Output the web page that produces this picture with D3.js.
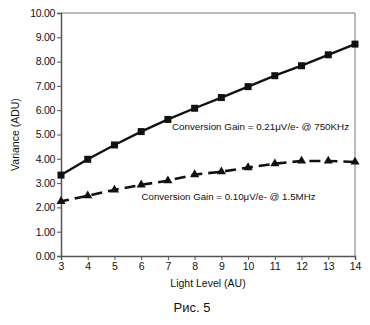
<!DOCTYPE html>
<html>
<head>
<meta charset="utf-8">
<script src="https://cdn.jsdelivr.net/npm/d3@7"></script>
<style>
  html, body { margin: 0; padding: 0; background: #fff; }
  svg { display: block; font-family: "Liberation Sans", Arial, sans-serif; }
</style>
</head>
<body>
<svg id="chart" width="370" height="325"></svg>
<script>
// Light level (AU) on the x axis
const lightLevels = [3, 4, 5, 6, 7, 8, 9, 10, 11, 12, 13, 14];
// Measured variance (ADU) for the two readout settings
const variance750KHz = [3.33, 3.98, 4.57, 5.12, 5.62, 6.08, 6.52, 6.97, 7.42, 7.83, 8.28, 8.72];
const variance15MHz = [2.25, 2.48, 2.72, 2.93, 3.10, 3.35, 3.47, 3.64, 3.80, 3.91, 3.91, 3.87];
const yTicks = [0, 1, 2, 3, 4, 5, 6, 7, 8, 9, 10];
const seriesLabels = [
  "Conversion Gain = 0.21\u03bcV/e- @ 750KHz",
  "Conversion Gain = 0.10\u03bcV/e- @ 1.5MHz"
];

const svg = d3.select("#chart");
const m = { left: 61, right: 15, top: 13, bottom: 69 };
const W = 370, H = 325;

const x = d3.scaleLinear().domain([3, 14]).range([m.left, W - m.right]);
const y = d3.scaleLinear().domain([0, 10]).range([H - m.bottom, m.top]);

// Frame (top and right edges)
svg.append("path")
  .attr("d", `M${x(3)},${y(10)}H${x(14)}V${y(0)}`)
  .attr("fill", "none").attr("stroke", "#777").attr("stroke-width", 1);

// Y axis
const yAxis = svg.append("g")
  .attr("transform", `translate(${x(3)},0)`)
  .call(d3.axisLeft(y).tickValues(yTicks).tickFormat(d3.format(".2f")).tickSize(4).tickPadding(2));
yAxis.select(".domain").attr("stroke", "#555").attr("stroke-width", 1.5);
yAxis.selectAll(".tick line").attr("stroke", "#555");
yAxis.selectAll("text").attr("font-size", 10.5).attr("fill", "#111").attr("letter-spacing", -0.3);

// X axis
const xAxis = svg.append("g")
  .attr("transform", `translate(0,${y(0)})`)
  .call(d3.axisBottom(x).tickValues(lightLevels).tickFormat(d3.format("d")).tickSize(4).tickPadding(3));
xAxis.select(".domain").attr("stroke", "#555").attr("stroke-width", 1.5);
xAxis.selectAll(".tick line").attr("stroke", "#555");
xAxis.selectAll("text").attr("font-size", 10.5).attr("fill", "#111");

// Axis titles
svg.append("text")
  .attr("transform", `translate(19,${(y(0) + y(10)) / 2}) rotate(-90)`)
  .attr("text-anchor", "middle").attr("font-size", 10.5).attr("fill", "#111")
  .text("Variance (ADU)");
svg.append("text")
  .attr("x", 208).attr("y", 287)
  .attr("text-anchor", "middle").attr("font-size", 10.5).attr("fill", "#111")
  .text("Light Level (AU)");
svg.append("text")
  .attr("x", 192).attr("y", 312)
  .attr("text-anchor", "middle").attr("font-size", 13).attr("fill", "#111")
  .text("Рис. 5");

const line = d3.line().x(d => x(d[0])).y(d => y(d[1]));
const pts1 = lightLevels.map((l, i) => [l, variance750KHz[i]]);
const pts2 = lightLevels.map((l, i) => [l, variance15MHz[i]]);

// Series 1: solid line, square markers
svg.append("path").datum(pts1).attr("d", line)
  .attr("fill", "none").attr("stroke", "#111").attr("stroke-width", 2.4);
svg.append("g").selectAll("rect").data(pts1).join("rect")
  .attr("x", d => x(d[0]) - 3.5).attr("y", d => y(d[1]) - 3.5)
  .attr("width", 7).attr("height", 7).attr("fill", "#111");

// Series 2: dashed line, triangle markers
svg.append("path").datum(pts2).attr("d", line)
  .attr("fill", "none").attr("stroke", "#111").attr("stroke-width", 2.6)
  .attr("stroke-dasharray", "11,6").attr("stroke-dashoffset", 3);
const tri = d3.symbol().type(d3.symbolTriangle).size(36);
svg.append("g").selectAll("path").data(pts2).join("path")
  .attr("d", tri)
  .attr("transform", d => `translate(${x(d[0])},${y(d[1])})`)
  .attr("fill", "#111");

// Series annotations
svg.append("text")
  .attr("x", 172).attr("y", 129.5)
  .attr("font-size", 9.8).attr("fill", "#111")
  .text(seriesLabels[0]);
svg.append("text")
  .attr("x", 141.5).attr("y", 199.5)
  .attr("font-size", 9.7).attr("fill", "#111")
  .text(seriesLabels[1]);
</script>
</body>
</html>
